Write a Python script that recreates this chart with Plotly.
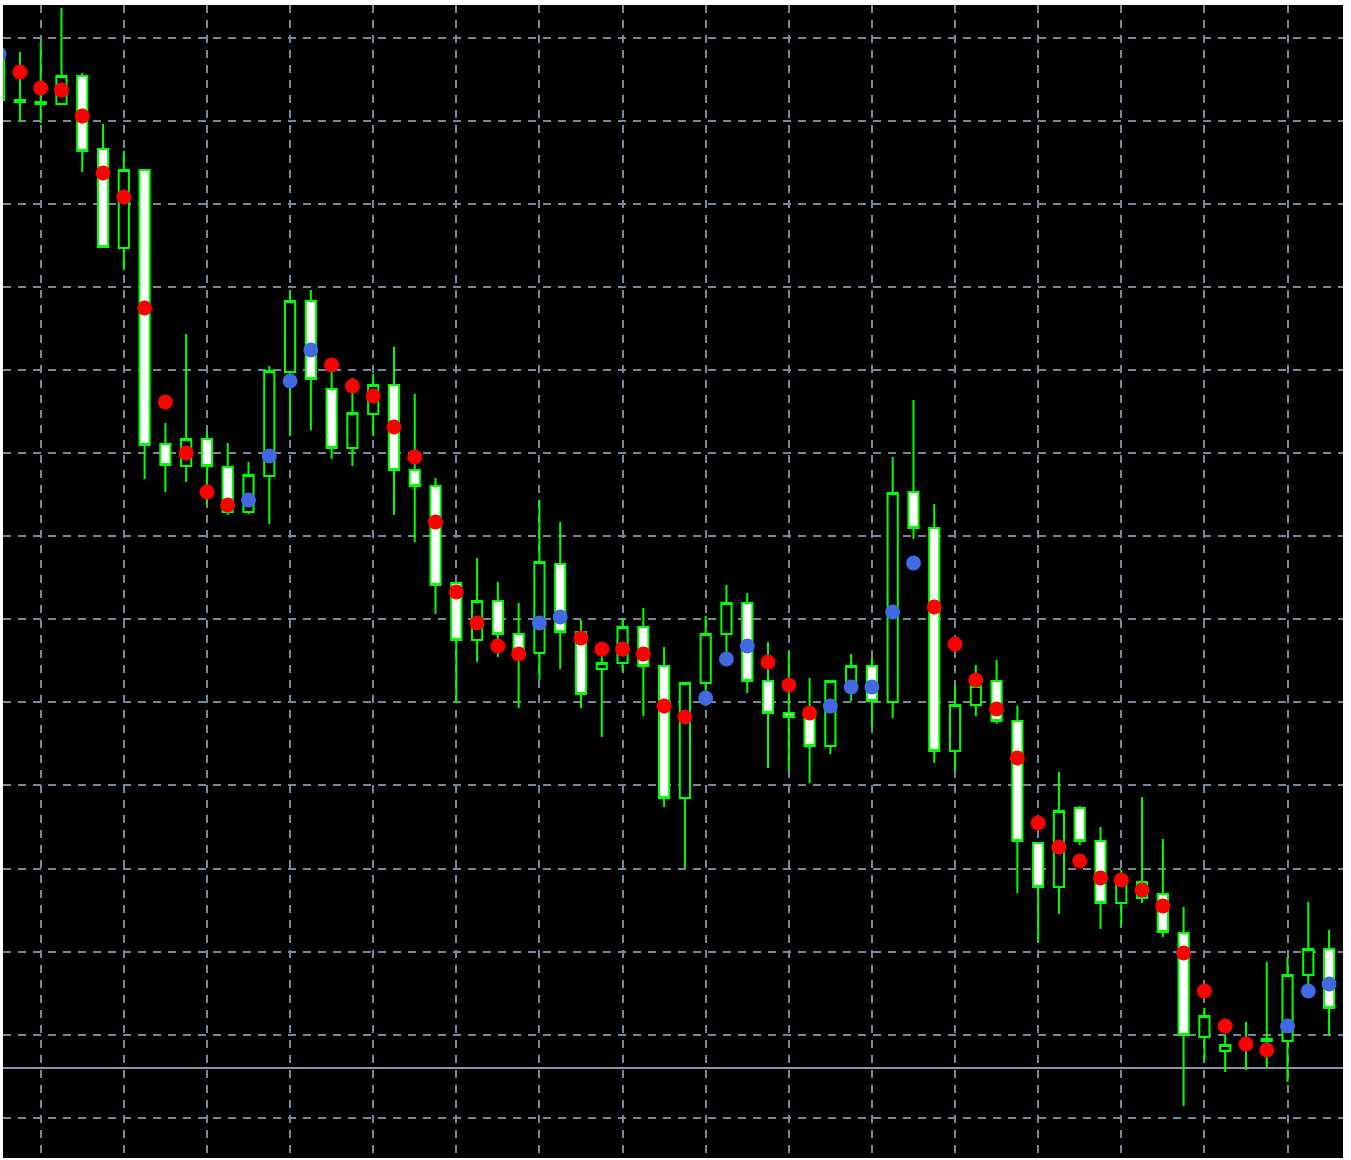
import plotly.graph_objects as go

# bar index (the first bar is only partly visible at the left edge)
bars = list(range(-1, 64))

opens = [1.31900, 1.31900, 1.31898, 1.31896, 1.31924, 1.31851, 1.31752, 1.31830, 1.31556, 1.31534,
         1.31561, 1.31533, 1.31488, 1.31524, 1.31628, 1.31699, 1.31611, 1.31552, 1.31586, 1.31615,
         1.31530, 1.31514, 1.31417, 1.31360, 1.31399, 1.31366, 1.31347, 1.31436, 1.31368, 1.31331,
         1.31337, 1.31373, 1.31334, 1.31202, 1.31317, 1.31366, 1.31397, 1.31319, 1.31287, 1.31283,
         1.31254, 1.31313, 1.31334, 1.31298, 1.31508, 1.31472, 1.31249, 1.31295, 1.31319, 1.31279,
         1.31157, 1.31113, 1.31192, 1.31159, 1.31097, 1.31102, 1.31106, 1.31067, 1.30963, 1.30949,
         1.30959, 1.30961, 1.30959, 1.31025, 1.31051]
highs = [1.31955, 1.31948, 1.31958, 1.31992, 1.31927, 1.31876, 1.31849, 1.31831, 1.31577, 1.31666,
         1.31569, 1.31557, 1.31538, 1.31634, 1.31710, 1.31710, 1.31629, 1.31622, 1.31626, 1.31653,
         1.31606, 1.31522, 1.31418, 1.31442, 1.31418, 1.31397, 1.31500, 1.31478, 1.31380, 1.31355,
         1.31382, 1.31392, 1.31353, 1.31317, 1.31384, 1.31415, 1.31407, 1.31358, 1.31348, 1.31322,
         1.31319, 1.31346, 1.31342, 1.31543, 1.31600, 1.31496, 1.31314, 1.31335, 1.31340, 1.31294,
         1.31157, 1.31228, 1.31194, 1.31173, 1.31130, 1.31203, 1.31161, 1.31093, 1.30992, 1.30965,
         1.30978, 1.31038, 1.31043, 1.31098, 1.31070]
lows = [1.31890, 1.31879, 1.31877, 1.31896, 1.31828, 1.31752, 1.31730, 1.31521, 1.31508, 1.31518,
        1.31496, 1.31485, 1.31486, 1.31476, 1.31564, 1.31570, 1.31541, 1.31534, 1.31564, 1.31485,
        1.31458, 1.31386, 1.31297, 1.31338, 1.31343, 1.31292, 1.31320, 1.31331, 1.31292, 1.31263,
        1.31329, 1.31284, 1.31193, 1.31132, 1.31294, 1.31343, 1.31307, 1.31232, 1.31229, 1.31217,
        1.31246, 1.31299, 1.31272, 1.31282, 1.31461, 1.31237, 1.31229, 1.31284, 1.31276, 1.31107,
        1.31058, 1.31086, 1.31155, 1.31071, 1.31074, 1.31097, 1.31063, 1.30894, 1.30939, 1.30928,
        1.30930, 1.30932, 1.30918, 1.31009, 1.30965]
closes = [1.31945, 1.31898, 1.31896, 1.31924, 1.31849, 1.31753, 1.31830, 1.31555, 1.31535, 1.31561,
          1.31534, 1.31488, 1.31525, 1.31629, 1.31699, 1.31621, 1.31552, 1.31587, 1.31615, 1.31530,
          1.31514, 1.31415, 1.31360, 1.31399, 1.31366, 1.31350, 1.31438, 1.31368, 1.31306, 1.31337,
          1.31373, 1.31334, 1.31202, 1.31317, 1.31366, 1.31397, 1.31319, 1.31287, 1.31283, 1.31254,
          1.31319, 1.31334, 1.31299, 1.31507, 1.31472, 1.31249, 1.31295, 1.31314, 1.31279, 1.31159,
          1.31113, 1.31189, 1.31159, 1.31097, 1.31116, 1.31118, 1.31068, 1.30965, 1.30984, 1.30955,
          1.30957, 1.30959, 1.31025, 1.31051, 1.30992]

# indicator dots: red while the trend is down, blue while it is up
dots_down = [None, 1.31928, 1.31912, 1.31910, 1.31884, 1.31827, 1.31803, 1.31692, 1.31598, 1.31547,
             1.31508, 1.31495, None, None, None, None, 1.31635, 1.31614, 1.31604, 1.31573,
             1.31543, 1.31478, 1.31408, 1.31377, 1.31354, 1.31346, None, None, 1.31362, 1.31351,
             1.31351, 1.31346, 1.31294, 1.31283, None, None, None, 1.31338, 1.31315, 1.31287,
             None, None, None, None, None, 1.31393, 1.31356, 1.31320, 1.31291, 1.31242,
             1.31177, 1.31153, 1.31139, 1.31122, 1.31120, 1.31110, 1.31094, 1.31047, 1.31009, 1.30974,
             1.30956, 1.30950, None, None, None]
dots_up = [1.31946, None, None, None, None, None, None, None, None, None,
           None, None, 1.31500, 1.31544, 1.31619, 1.31650, None, None, None, None,
           None, None, None, None, None, None, 1.31377, 1.31383, None, None,
           None, None, None, None, 1.31302, 1.31341, 1.31354, None, None, None,
           1.31294, 1.31313, 1.31313, 1.31388, 1.31437, None, None, None, None, None,
           None, None, None, None, None, None, None, None, None, None,
           None, None, 1.30974, 1.31009, 1.31016]

bid_price = 1.30932

GREEN = "#00ff00"
GRID = "#778899"

fig = go.Figure()
fig.add_trace(go.Candlestick(
    x=bars, open=opens, high=highs, low=lows, close=closes,
    increasing=dict(line=dict(color=GREEN, width=2), fillcolor="#000000"),
    decreasing=dict(line=dict(color=GREEN, width=2), fillcolor="#ffffff"),
    whiskerwidth=0, showlegend=False, hoverinfo="skip",
))
fig.add_trace(go.Scatter(x=bars, y=dots_down, mode="markers",
                         marker=dict(color="#ff0000", size=15), showlegend=False))
fig.add_trace(go.Scatter(x=bars, y=dots_up, mode="markers",
                         marker=dict(color="#4169e1", size=15), showlegend=False))

fig.add_shape(type="line", xref="paper", x0=0, x1=1, yref="y", y0=bid_price, y1=bid_price,
              line=dict(color="#8896a8", width=2), layer="below")

fig.update_layout(
    width=1351, height=1160,
    margin=dict(l=3, r=8, t=5, b=2),
    paper_bgcolor="#ffffff", plot_bgcolor="#000000",
    boxgap=0.3,
    xaxis=dict(range=[-0.814, 63.67], tick0=1, dtick=4, showticklabels=False,
               showgrid=True, gridcolor=GRID, gridwidth=2, griddash="8px,7px",
               zeroline=False, showline=False, rangeslider=dict(visible=False), ticks=""),
    yaxis=dict(range=[1.30842, 1.31995], tick0=1.319625, dtick=0.000831, showticklabels=False,
               showgrid=True, gridcolor=GRID, gridwidth=2, griddash="8px,7px",
               zeroline=False, showline=False, ticks=""),
)

fig.write_html("out.html", config={"displayModeBar": False},
               post_script="document.body.style.margin='0';document.body.style.overflow='hidden';")
